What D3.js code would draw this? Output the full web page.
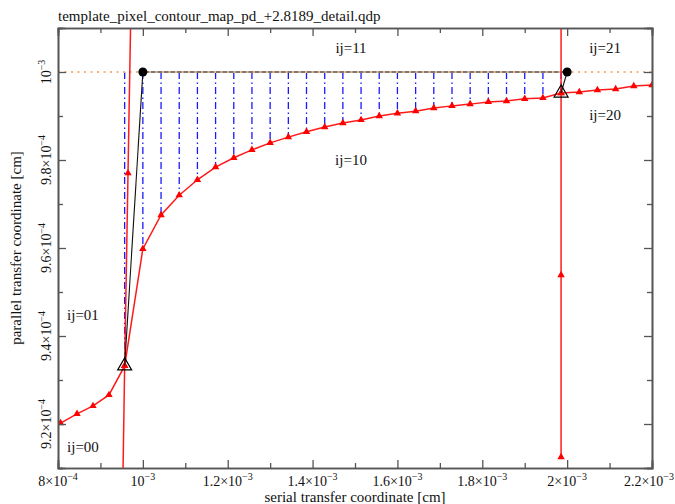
<!DOCTYPE html>
<html>
<head>
<meta charset="UTF-8">
<title>contour map detail</title>
<script src="https://cdn.jsdelivr.net/npm/d3@7"></script>
<style>
  body { margin: 0; background: #fff; }
  svg text { font-family: "Liberation Serif", "Times New Roman", "DejaVu Serif", serif; }
  .frame line, .frame path { stroke: #555; }
</style>
</head>
<body>
<div id="root"></div>
<script>
// ---- data (cm) ----
let titleText = "template_pixel_contour_map_pd_+2.8189_detail.qdp"

// the long red contour (ij=0x/1x boundary)
let curveX = [0.806e-3, 0.8448e-3, 0.8825e-3, 0.9202e-3, 0.9571e-3,
  1.0e-3, 1.0429e-3, 1.0857e-3, 1.1286e-3, 1.1714e-3, 1.2143e-3, 1.2571e-3, 1.3e-3,
  1.3429e-3, 1.3857e-3, 1.4286e-3, 1.4714e-3, 1.5143e-3, 1.5571e-3, 1.6e-3, 1.6429e-3,
  1.6857e-3, 1.7286e-3, 1.7714e-3, 1.8143e-3, 1.8571e-3, 1.9e-3, 1.9429e-3, 1.9857e-3,
  2.0286e-3, 2.0714e-3, 2.1143e-3, 2.1571e-3, 2.2e-3]
let curveY = [0.9202e-3, 0.9223e-3, 0.9241e-3, 0.9266e-3, 0.9332e-3,
  0.9598e-3, 0.9675e-3, 0.9720e-3, 0.9755e-3, 0.9784e-3, 0.9805e-3, 0.9823e-3, 0.9839e-3,
  0.9852e-3, 0.9864e-3, 0.9875e-3, 0.9884e-3, 0.9891e-3, 0.9900e-3, 0.9906e-3, 0.9911e-3,
  0.9918e-3, 0.9923e-3, 0.9927e-3, 0.9932e-3, 0.9934e-3, 0.9939e-3, 0.9941e-3, 0.99523e-3,
  0.99545e-3, 0.99591e-3, 0.99614e-3, 0.99682e-3, 0.99705e-3]

// left near-vertical contour
let leftX = [0.9500e-3, 0.9571e-3, 0.9650e-3, 0.9729e-3]
let leftY = [0.8893e-3, 0.9332e-3, 0.9770e-3, 1.0208e-3]

// right vertical contour
let rightX = [1.9857e-3, 1.9857e-3, 1.9857e-3, 1.9857e-3]
let rightY = [0.9125e-3, 0.95386e-3, 0.99523e-3, 1.0366e-3]

// pixel corners (filled circles) and their projected points (open triangles)
let cornerX = [1.0e-3, 2.0e-3]
let cornerY = [1.0e-3, 1.0e-3]
let projX = [0.9571e-3, 1.9857e-3]
let projY = [0.9332e-3, 0.99523e-3]

let levelY = 1.0e-3

let regionText = ["ij=11", "ij=21", "ij=20", "ij=10", "ij=01", "ij=00"]
let regionX = [1.4906e-3, 2.0893e-3, 2.0893e-3, 1.4906e-3, 0.8589e-3, 0.8589e-3]
let regionY = [1.00545e-3, 1.00545e-3, 0.99023e-3, 0.9800e-3, 0.94477e-3, 0.91477e-3]

let xTicks = [0.8e-3, 1.0e-3, 1.2e-3, 1.4e-3, 1.6e-3, 1.8e-3, 2.0e-3, 2.2e-3]
let xTickBase = ["8×10", "10", "1.2×10", "1.4×10", "1.6×10", "1.8×10", "2×10", "2.2×10"]
let xTickExp = ["−4", "−3", "−3", "−3", "−3", "−3", "−3", "−3"]
let xMinor = [0.9e-3, 1.1e-3, 1.3e-3, 1.5e-3, 1.7e-3, 1.9e-3, 2.1e-3]

let yTicks = [0.92e-3, 0.94e-3, 0.96e-3, 0.98e-3, 1.0e-3]
let yTickBase = ["9.2×10", "9.4×10", "9.6×10", "9.8×10", "10"]
let yTickExp = ["−4", "−4", "−4", "−4", "−3"]
let yMinor = [0.91e-3, 0.93e-3, 0.95e-3, 0.97e-3, 0.99e-3, 1.01e-3]

// ---- layout ----
let width = 675, height = 504
let margin = {left: 58, right: 23, top: 28, bottom: 36}
let iw = width - margin.left - margin.right
let ih = height - margin.top - margin.bottom

let svg = d3.select("#root").append("svg").attr("width", width).attr("height", height)

let x = d3.scaleLinear().domain([0.8e-3, 2.2e-3]).range([0, iw])
let y = d3.scaleLinear().domain([0.91e-3, 1.01e-3]).range([ih, 0])

svg.append("defs").append("clipPath").attr("id", "clip")
  .append("rect").attr("width", iw).attr("height", ih)

let g = svg.append("g").attr("transform", "translate(" + margin.left + "," + margin.top + ")")
let plot = g.append("g").attr("clip-path", "url(#clip)")

let zip = (xs, ys) => xs.map((v, i) => [v, ys[i]])
let curve = zip(curveX, curveY)
let leftC = zip(leftX, leftY)
let rightC = zip(rightX, rightY)
let line = d3.line().x(d => x(d[0])).y(d => y(d[1]))

// blue dash-dot drops from the level line down to the contour
plot.selectAll("line.drop")
  .data(curve.filter(d => d[0] > 0.95e-3 && d[0] < 1.99e-3))
  .enter().append("line").attr("class", "drop")
  .attr("x1", d => x(d[0])).attr("x2", d => x(d[0]))
  .attr("y1", y(levelY)).attr("y2", d => y(d[1]))
  .attr("stroke", "#1a1aff").attr("stroke-width", 1.3)
  .attr("stroke-dasharray", "7,3.5,1.5,3")

// gray level line between the two corners
plot.append("line")
  .attr("x1", x(cornerX[0])).attr("x2", x(cornerX[1]))
  .attr("y1", y(levelY)).attr("y2", y(levelY))
  .attr("stroke", "#7a7a7a").attr("stroke-width", 2)

// orange dotted level line across the whole plot
plot.append("line")
  .attr("x1", 0).attr("x2", iw)
  .attr("y1", y(levelY)).attr("y2", y(levelY))
  .attr("stroke", "#f7b27a").attr("stroke-width", 2)
  .attr("stroke-dasharray", "2,4.5")

// red contours
;[curve, leftC, rightC].forEach(c => {
  plot.append("path").datum(c).attr("d", line)
    .attr("fill", "none").attr("stroke", "#ff1a1a").attr("stroke-width", 1.5)
  plot.selectAll(null).data(c).enter().append("path")
    .attr("d", d3.symbol().type(d3.symbolTriangle).size(24))
    .attr("transform", d => "translate(" + x(d[0]) + "," + y(d[1]) + ")")
    .attr("fill", "#ff0000")
})

// black links from corners to projected points
plot.selectAll("line.link").data(cornerX).enter().append("line").attr("class", "link")
  .attr("x1", (d, i) => x(d)).attr("y1", (d, i) => y(cornerY[i]))
  .attr("x2", (d, i) => x(projX[i])).attr("y2", (d, i) => y(projY[i]))
  .attr("stroke", "#111").attr("stroke-width", 1.1)

plot.selectAll("circle.corner").data(cornerX).enter().append("circle").attr("class", "corner")
  .attr("cx", d => x(d)).attr("cy", (d, i) => y(cornerY[i])).attr("r", 4.5)
  .attr("fill", "#000")

plot.selectAll("path.proj").data(projX).enter().append("path").attr("class", "proj")
  .attr("d", d3.symbol().type(d3.symbolTriangle).size(85))
  .attr("transform", (d, i) => "translate(" + x(d) + "," + y(projY[i]) + ")")
  .attr("fill", "none").attr("stroke", "#000").attr("stroke-width", 1.2)

// region labels
g.selectAll("text.region").data(regionText).enter().append("text").attr("class", "region")
  .attr("x", (d, i) => x(regionX[i])).attr("y", (d, i) => y(regionY[i]))
  .attr("text-anchor", "middle").attr("dy", "0.35em")
  .style("font-size", "15px").attr("fill", "#111")
  .text(d => d)

// ---- frame & ticks (inward on all four sides) ----
let frame = g.append("g").attr("class", "frame")
function ticks(axisFn, scale, vals, len, tr) {
  frame.append("g").attr("transform", tr)
    .call(axisFn(scale).tickValues(vals).tickSize(len).tickFormat(""))
    .call(s => s.select(".domain").attr("stroke-width", 1.6))
    .call(s => s.selectAll(".tick line").attr("stroke-width", 1.3))
}
ticks(d3.axisBottom, x, xTicks, -8, "translate(0," + ih + ")")
ticks(d3.axisBottom, x, xMinor, -5, "translate(0," + ih + ")")
ticks(d3.axisTop, x, xTicks, -8, "translate(0,0)")
ticks(d3.axisTop, x, xMinor, -5, "translate(0,0)")
ticks(d3.axisLeft, y, yTicks, -8, "translate(0,0)")
ticks(d3.axisLeft, y, yMinor, -5, "translate(0,0)")
ticks(d3.axisRight, y, yTicks, -8, "translate(" + iw + ",0)")
ticks(d3.axisRight, y, yMinor, -5, "translate(" + iw + ",0)")

// tick labels with superscript exponents
let xl = g.selectAll("text.xl").data(xTicks).enter().append("text").attr("class", "xl")
  .attr("x", d => x(d)).attr("y", ih + 18)
  .attr("text-anchor", "middle").style("font-size", "14px").attr("fill", "#111")
xl.append("tspan").text((d, i) => xTickBase[i])
xl.append("tspan").attr("dy", -6).style("font-size", "10px").text((d, i) => xTickExp[i])
// keep the last label inside the page
xl.each(function () {
  let b = this.getBBox()
  let over = margin.left + b.x + b.width - (width - 1)
  if (over > 0) d3.select(this).attr("x", +d3.select(this).attr("x") - over)
})

let yl = g.selectAll("text.yl").data(yTicks).enter().append("text").attr("class", "yl")
  .attr("transform", d => "translate(-7," + y(d) + ") rotate(-90)")
  .attr("text-anchor", "middle").style("font-size", "14px").attr("fill", "#111")
yl.append("tspan").text((d, i) => yTickBase[i])
yl.append("tspan").attr("dy", -6).style("font-size", "10px").text((d, i) => yTickExp[i])

// axis titles and plot title
g.append("text").attr("x", iw / 2).attr("y", ih + 34)
  .attr("text-anchor", "middle").style("font-size", "15px").attr("fill", "#111")
  .text("serial transfer coordinate [cm]")
g.append("text").attr("transform", "translate(-37," + (ih / 2) + ") rotate(-90)")
  .attr("text-anchor", "middle").style("font-size", "15px").attr("fill", "#111")
  .text("parallel transfer coordinate [cm]")
svg.append("text").attr("x", margin.left).attr("y", 21)
  .style("font-size", "15px").attr("fill", "#111").text(titleText)
</script>
</body>
</html>
